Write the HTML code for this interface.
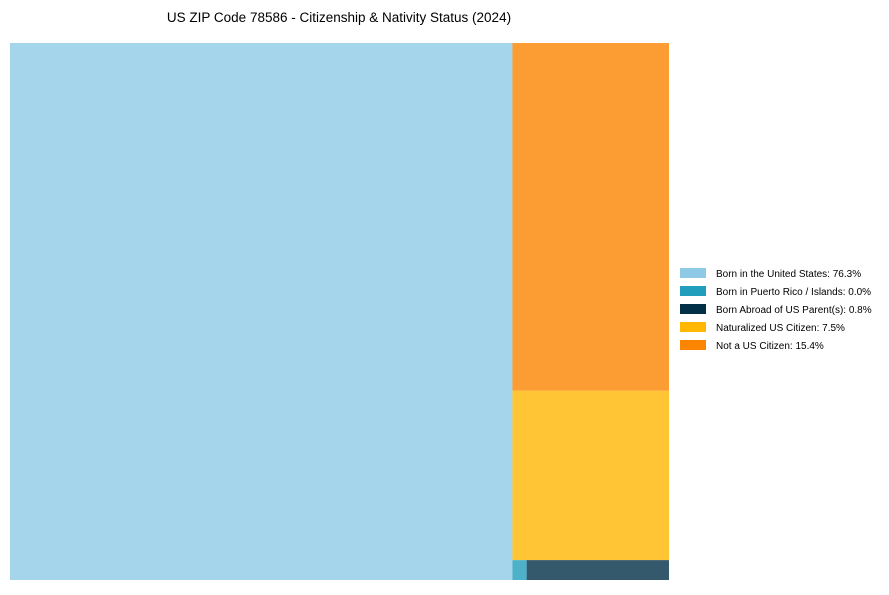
<!DOCTYPE html>
<html><head><meta charset="utf-8"><style>
body{margin:0;background:#fff;font-family:"Liberation Sans",Arial,sans-serif}
svg text{font-family:"Liberation Sans",Arial,sans-serif}
</style></head><body>
<svg id="chart" width="889" height="590">
<text x="339" y="22" text-anchor="middle" font-size="13.5" fill="#000">US ZIP Code 78586 - Citizenship &amp; Nativity Status (2024)</text>
<g id="cells"></g><g id="legend"></g>
</svg>
<script>
const categories=["Born in the United States","Born in Puerto Rico / Islands","Born Abroad of US Parent(s)","Naturalized US Citizen","Not a US Citizen"];
const values=[76.3,0.08,0.8,7.5,15.4];
const pctLabels=["76.3%","0.0%","0.8%","7.5%","15.4%"];
const colors=["#8ecae6","#219ebc","#023047","#ffb703","#fb8500"];
const ns="http://www.w3.org/2000/svg";
const X0=10,Y0=43,W=659,H=537;
const total=values.reduce((a,b)=>a+b,0);
const cells=document.getElementById('cells');
function rect(x,y,w,h,i){
  const r=document.createElementNS(ns,'rect');
  r.setAttribute('x',x);r.setAttribute('y',y);r.setAttribute('width',w);r.setAttribute('height',h);
  r.setAttribute('fill',colors[i]);r.setAttribute('fill-opacity','0.8');
  
  
  cells.appendChild(r);
}
const w0=W*values[0]/total;
rect(X0,Y0,w0,H,0);
const cx=X0+w0,cw=W-w0,rest=total-values[0];
const hO=H*values[4]/rest, hY=H*values[3]/rest, hS=H-hO-hY;
rect(cx,Y0,cw,hO,4);
rect(cx,Y0+hO,cw,hY,3);
const sv=values[1]+values[2];
const wT=cw*values[1]/sv;
rect(cx,Y0+hO+hY,wT,hS,1);
rect(cx+wT,Y0+hO+hY,cw-wT,hS,2);
const lg=document.getElementById('legend');
categories.forEach((c,i)=>{
  const y=268+i*18;
  const r=document.createElementNS(ns,'rect');
  r.setAttribute('x',680);r.setAttribute('y',y);r.setAttribute('width',26);r.setAttribute('height',10);
  r.setAttribute('fill',colors[i]);
  
  
  lg.appendChild(r);
  const t=document.createElementNS(ns,'text');
  t.setAttribute('x',716);t.setAttribute('y',y+9);t.setAttribute('font-size','10');
  t.textContent=c+': '+pctLabels[i];
  
  
  lg.appendChild(t);
});
</script>
</body></html>
